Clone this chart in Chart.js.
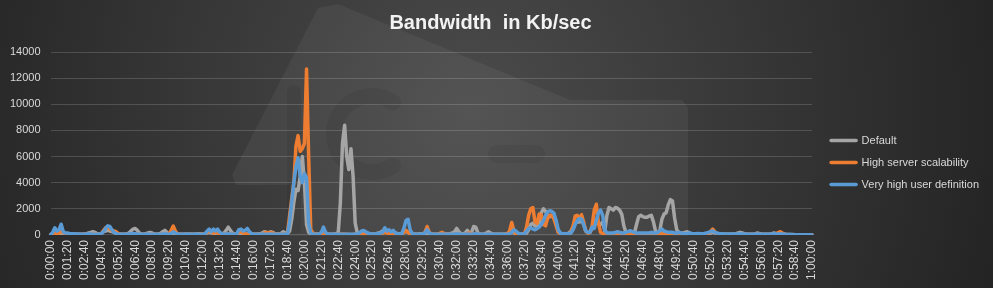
<!DOCTYPE html>
<html>
<head>
	<meta charset="utf-8">
	<title>Bandwidth in Kb/sec</title>
	<script src="https://cdn.jsdelivr.net/npm/chart.js@4.4.0/dist/chart.umd.min.js"></script>
	<style>
		html, body { margin: 0; padding: 0; background: #333; }
	</style>
</head>
<body>
	<canvas id="canvas" width="993" height="288"></canvas>
	<script type="text/javascript">

		// one sample every 10 seconds, 0:00:00 .. 1:00:00
		var sampleStep = 10;

		var tickLabels = [
			'0:00:00','0:01:20','0:02:40','0:04:00','0:05:20','0:06:40','0:08:00','0:09:20',
			'0:10:40','0:12:00','0:13:20','0:14:40','0:16:00','0:17:20','0:18:40','0:20:00',
			'0:21:20','0:22:40','0:24:00','0:25:20','0:26:40','0:28:00','0:29:20','0:30:40',
			'0:32:00','0:33:20','0:34:40','0:36:00','0:37:20','0:38:40','0:40:00','0:41:20',
			'0:42:40','0:44:00','0:45:20','0:46:40','0:48:00','0:49:20','0:50:40','0:52:00',
			'0:53:20','0:54:40','0:56:00','0:57:20','0:58:40','1:00:00'
		];

		var defaultKbps = [
			0, 80, 150, 120, 100, 150, 120, 100, 80, 100,
			100, 80, 60, 50, 50, 60, 80, 100, 150, 200,
			250, 200, 100, 60, 100, 250, 300, 350, 300, 250,
			200, 100, 60, 50, 50, 60, 80, 150, 300, 450,
			500, 350, 150, 80, 60, 100, 150, 200, 150, 80,
			60, 80, 120, 250, 350, 200, 80, 60, 80, 100,
			60, 50, 50, 60, 80, 60, 50, 50, 60, 80,
			100, 80, 60, 80, 150, 200, 150, 120, 150, 120,
			100, 80, 150, 350, 600, 350, 150, 80, 60, 80,
			100, 80, 60, 80, 100, 80, 60, 50, 60, 80,
			150, 250, 200, 150, 250, 200, 100, 80, 60, 120,
			250, 150, 100, 300, 1200, 2500, 3500, 3400, 4500, 6000,
			4000, 800, 200, 80, 60, 50, 50, 60, 80, 100,
			80, 60, 50, 50, 60, 100, 200, 2500, 7000, 8400,
			6000, 5000, 6600, 4500, 900, 150, 80, 100, 120, 100,
			80, 60, 60, 80, 100, 150, 200, 300, 400, 300,
			200, 150, 200, 150, 100, 80, 100, 200, 300, 200,
			100, 80, 60, 60, 80, 100, 80, 100, 150, 100,
			80, 60, 50, 60, 80, 100, 80, 60, 80, 100,
			150, 250, 500, 250, 100, 80, 150, 350, 150, 200,
			650, 600, 150, 80, 60, 80, 150, 250, 150, 80,
			60, 50, 50, 50, 60, 80, 100, 150, 300, 150,
			100, 80, 60, 80, 100, 150, 400, 800, 900, 700,
			600, 900, 1700, 2000, 1800, 1500, 1400, 1500, 1400, 800,
			250, 100, 80, 60, 80, 150, 300, 600, 900, 1000,
			1000, 1100, 800, 300, 150, 200, 500, 900, 1200, 900,
			800, 1000, 300, 1500, 2100, 2000, 1900, 2100, 2050, 1900,
			1600, 700, 200, 150, 150, 150, 150, 800, 1400, 1500,
			1400, 1350, 1350, 1450, 1500, 1000, 300, 150, 300, 1200,
			1600, 1700, 2300, 2700, 2600, 1300, 400, 200, 150, 150,
			200, 250, 150, 100, 100, 80, 80, 100, 80, 60,
			60, 80, 150, 200, 150, 100, 80, 60, 60, 50,
			50, 50, 60, 80, 100, 150, 200, 150, 100, 60,
			50, 50, 60, 80, 150, 120, 80, 60, 50, 50,
			60, 100, 150, 100, 80, 150, 100, 60, 40, 30,
			30, 30, 20, 20, 20, 20, 10, 10, 10, 10,
			0
		];

		var highScalabilityKbps = [
			0, 50, 100, 80, 150, 300, 200, 100, 80, 60,
			50, 50, 40, 40, 40, 40, 50, 60, 80, 60,
			60, 50, 40, 40, 100, 350, 550, 600, 450, 350,
			300, 250, 100, 50, 40, 40, 40, 50, 80, 100,
			80, 60, 40, 40, 40, 40, 40, 50, 60, 50,
			40, 40, 50, 60, 80, 60, 100, 350, 680, 300,
			80, 50, 40, 40, 40, 50, 60, 50, 40, 40,
			50, 60, 80, 100, 200, 350, 250, 150, 200, 150,
			100, 60, 50, 60, 100, 80, 60, 50, 100, 200,
			250, 150, 80, 60, 50, 40, 40, 40, 50, 60,
			80, 150, 200, 150, 200, 150, 80, 60, 50, 60,
			100, 80, 150, 1500, 2800, 4000, 6800, 7600, 6400, 6600,
			7000, 12700, 6000, 400, 150, 80, 60, 50, 60, 80,
			60, 50, 40, 40, 40, 40, 50, 60, 80, 60,
			50, 40, 40, 40, 60, 80, 100, 80, 60, 50,
			40, 40, 40, 50, 60, 80, 100, 150, 200, 150,
			100, 80, 60, 50, 50, 60, 100, 200, 350, 200,
			100, 60, 50, 40, 40, 50, 80, 200, 650, 200,
			80, 50, 40, 60, 120, 200, 120, 60, 40, 40,
			40, 50, 60, 50, 40, 40, 60, 100, 150, 100,
			80, 60, 50, 40, 40, 40, 40, 50, 60, 50,
			40, 40, 40, 40, 40, 50, 100, 300, 950, 300,
			100, 60, 50, 60, 80, 600, 1500, 2000, 2100, 1000,
			900, 1600, 1500, 800, 700, 1300, 1500, 1500, 1200, 700,
			200, 100, 80, 60, 80, 100, 200, 700, 1450, 1500,
			1200, 1550, 1000, 300, 150, 200, 700, 1900, 2350, 900,
			200, 100, 60, 50, 50, 40, 40, 50, 60, 80,
			100, 150, 120, 100, 150, 120, 80, 60, 60, 60,
			50, 50, 40, 40, 40, 40, 50, 60, 80, 150,
			100, 80, 60, 60, 60, 50, 40, 40, 40, 40,
			40, 40, 40, 40, 50, 60, 60, 50, 40, 60,
			80, 150, 250, 450, 250, 100, 60, 40, 30, 30,
			30, 30, 30, 30, 30, 30, 40, 40, 30, 30,
			30, 30, 40, 50, 60, 50, 40, 30, 30, 30,
			30, 40, 60, 100, 180, 250, 150, 60, 30, 20,
			20, 20, 20, 10, 10, 10, 10, 10, 10, 10,
			0
		];

		var veryHighDefinitionKbps = [
			0, 200, 550, 300, 400, 820, 250, 150, 150, 120,
			100, 100, 80, 80, 60, 60, 60, 80, 100, 80,
			60, 60, 50, 60, 100, 250, 500, 700, 650, 400,
			200, 100, 60, 50, 50, 50, 60, 80, 100, 120,
			100, 80, 60, 50, 50, 60, 80, 60, 50, 50,
			50, 60, 60, 80, 100, 80, 60, 100, 250, 150,
			80, 60, 50, 50, 60, 80, 60, 50, 60, 80,
			60, 50, 60, 100, 300, 450, 250, 450, 300, 450,
			200, 100, 80, 80, 100, 80, 60, 80, 100, 400,
			450, 300, 350, 500, 250, 100, 60, 50, 50, 60,
			80, 60, 50, 60, 80, 60, 50, 50, 50, 60,
			80, 60, 100, 1000, 2500, 4000, 5200, 5900, 4500, 4000,
			4700, 4400, 900, 150, 80, 60, 60, 80, 200, 600,
			200, 80, 60, 50, 50, 50, 60, 50, 50, 50,
			50, 50, 50, 60, 80, 100, 150, 300, 350, 250,
			150, 100, 80, 80, 100, 100, 150, 200, 550, 300,
			400, 250, 350, 150, 100, 100, 100, 500, 1100, 1200,
			400, 100, 80, 60, 60, 80, 100, 150, 400, 150,
			80, 60, 50, 50, 60, 80, 60, 50, 50, 60,
			60, 80, 100, 80, 60, 50, 60, 80, 60, 60,
			80, 100, 80, 60, 50, 50, 50, 60, 80, 60,
			50, 50, 50, 50, 50, 60, 60, 100, 200, 400,
			300, 150, 80, 80, 100, 300, 500, 550, 450, 400,
			500, 600, 800, 1100, 1500, 1750, 1850, 1800, 1650, 1100,
			400, 150, 100, 100, 100, 120, 150, 400, 800, 1100,
			1250, 1200, 800, 300, 200, 200, 600, 500, 1100, 1700,
			1900, 1500, 400, 150, 150, 150, 150, 200, 250, 200,
			150, 150, 200, 250, 330, 250, 200, 150, 150, 150,
			150, 150, 150, 150, 200, 150, 150, 200, 300, 450,
			300, 250, 200, 200, 200, 150, 150, 200, 150, 120,
			100, 120, 150, 120, 100, 100, 120, 100, 100, 120,
			150, 200, 250, 300, 200, 150, 120, 100, 80, 80,
			80, 80, 80, 80, 80, 80, 100, 80, 80, 60,
			60, 60, 60, 80, 80, 80, 60, 60, 60, 60,
			60, 80, 100, 80, 80, 100, 80, 60, 40, 30,
			30, 20, 20, 20, 20, 20, 10, 10, 10, 10,
			0
		];

		function fmtTime(sec) {
			var h = Math.floor(sec / 3600);
			var m = Math.floor((sec % 3600) / 60);
			var s = sec % 60;
			return h + ':' + (m < 10 ? '0' : '') + m + ':' + (s < 10 ? '0' : '') + s;
		}

		var times = [];
		for (var i = 0; i < defaultKbps.length; i++) {
			times.push(fmtTime(i * sampleStep));
		}

		// dark excel-like background with the faint "ict-s" watermark
		var backdrop = {
			id: 'backdrop',
			beforeDraw: function(chart) {
				var ctx = chart.ctx;
				var w = chart.width, h = chart.height;
				ctx.save();
				var g = ctx.createRadialGradient(470, 110, 0, 470, 110, 560);
				g.addColorStop(0, '#4b4b4b');
				g.addColorStop(1, '#232323');
				ctx.fillStyle = g;
				ctx.fillRect(0, 0, w, h);

				var mark = [[318, 8], [338, 4], [570, 100], [682, 100], [688, 108], [688, 236],
					[290, 236], [290, 185], [236, 185], [232, 175]];
				ctx.fillStyle = 'rgba(255,255,255,0.05)';
				ctx.beginPath();
				mark.forEach(function(p, k) {
					if (k === 0) ctx.moveTo(p[0], p[1]); else ctx.lineTo(p[0], p[1]);
				});
				ctx.closePath();
				ctx.fill();

				// darker letter strokes inside the mark
				ctx.strokeStyle = 'rgba(0,0,0,0.06)';
				ctx.lineCap = 'round';
				ctx.lineWidth = 14;
				ctx.beginPath();
				ctx.moveTo(294, 92); ctx.lineTo(294, 228);
				ctx.stroke();
				ctx.lineWidth = 16;
				ctx.beginPath();
				ctx.arc(372, 134, 38, -Math.PI / 3.2, Math.PI / 3.2, true);
				ctx.stroke();
				ctx.lineWidth = 18;
				ctx.beginPath();
				ctx.moveTo(497, 154); ctx.lineTo(536, 154);
				ctx.stroke();
				ctx.restore();
			}
		};

		var legendShift = {
			id: 'legendShift',
			afterLayout: function(chart) {
				var lg = chart.legend;
				lg.left += 8; lg.right += 8;
				lg.top += 20; lg.bottom += 20;
			}
		};

		var tickColor = '#d9d9d9';

		var ctx = document.getElementById('canvas').getContext('2d');
		var myLine = new Chart(ctx, {
			type: 'line',
			data: {
				labels: times,
				datasets: [{
					label: 'Default',
					data: defaultKbps,
					borderColor: '#a5a5a5',
					backgroundColor: '#a5a5a5',
					order: 2
				}, {
					label: 'High server scalability',
					data: highScalabilityKbps,
					borderColor: '#ed7d31',
					backgroundColor: '#ed7d31',
					order: 1
				}, {
					label: 'Very high user definition',
					data: veryHighDefinitionKbps,
					borderColor: '#5b9bd5',
					backgroundColor: '#5b9bd5',
					order: 0
				}]
			},
			options: {
				responsive: false,
				animation: false,
				devicePixelRatio: 1,
				layout: { padding: { left: 0, right: 12, top: 0, bottom: 3 } },
				elements: {
					point: { radius: 0 },
					line: { borderWidth: 3.5, borderJoinStyle: 'round', borderCapStyle: 'round', tension: 0 }
				},
				plugins: {
					title: {
						display: true,
						text: 'Bandwidth  in Kb/sec',
						color: '#f2f2f2',
						font: { family: 'Liberation Sans', size: 20, weight: 'bold' },
						padding: { top: 11, bottom: 17 }
					},
					legend: {
						position: 'right',
						labels: {
							color: tickColor,
							font: { family: 'Liberation Sans', size: 11 },
							usePointStyle: true,
							pointStyleWidth: 25,
							padding: 11,
							generateLabels: function(chart) {
								return chart.data.datasets.map(function(ds, k) {
									return {
										text: ds.label,
										fillStyle: ds.borderColor,
										strokeStyle: ds.borderColor,
										lineWidth: 3.5,
										lineCap: 'round',
										pointStyle: 'line',
										fontColor: tickColor,
										hidden: false,
										datasetIndex: k
									};
								});
							}
						}
					},
					tooltip: { enabled: false }
				},
				scales: {
					x: {
						grid: { display: false, drawTicks: false },
						border: { display: false },
						ticks: {
							autoSkip: false,
							minRotation: 90,
							maxRotation: 90,
							padding: 5,
							color: tickColor,
							font: { family: 'Liberation Sans', size: 12 },
							callback: function(value) {
								var t = this.getLabelForValue(value);
								return tickLabels.indexOf(t) >= 0 ? t : '';
							}
						}
					},
					y: {
						min: 0,
						max: 14000,
						grid: { color: 'rgba(255,255,255,0.16)', drawTicks: false },
						border: { display: false },
						ticks: {
							stepSize: 2000,
							padding: 10,
							color: tickColor,
							font: { family: 'Liberation Sans', size: 11 },
							callback: function(value) { return String(value); }
						}
					}
				}
			},
			plugins: [backdrop, legendShift]
		});
	</script>
</body>
</html>
